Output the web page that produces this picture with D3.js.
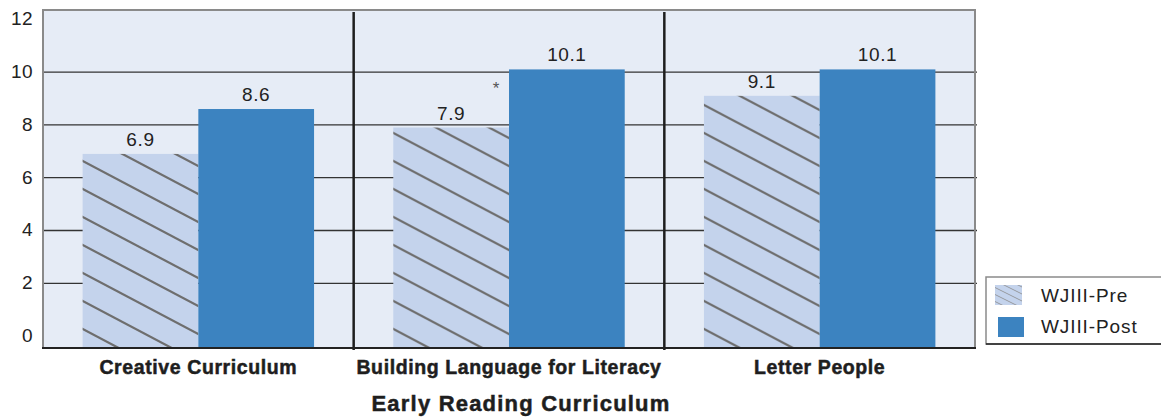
<!DOCTYPE html>
<html>
<head>
<meta charset="utf-8">
<script src="https://cdn.jsdelivr.net/npm/d3@7/dist/d3.min.js"></script>
<style>
  html, body { margin: 0; padding: 0; background: #fff; }
  svg { display: block; font-family: "Liberation Sans", Arial, Helvetica, sans-serif; }
</style>
</head>
<body>
<svg id="chart" width="1161" height="418"></svg>
<script>
// ---- Data ----
const categories = ["Creative Curriculum", "Building Language for Literacy", "Letter People"];
const series = ["WJIII-Pre", "WJIII-Post"];
const preValues = [6.9, 7.9, 9.1];
const postValues = [8.6, 10.1, 10.1];
const significant = [false, true, false];
const yTicks = [0, 2, 4, 6, 8, 10, 12];
const xTitle = "Early Reading Curriculum";

// ---- Layout ----
const svg = d3.select("#chart");
const plot = { left: 43, right: 975, top: 10, bottom: 348 };

const x0 = d3.scaleBand().domain(categories).range([plot.left, plot.right]).padding(0);
const bw = x0.bandwidth();
const pad = bw * 0.1275;
const x1 = d3.scaleBand().domain(series).range([pad, bw - pad]).padding(0);
const y = d3.scaleLinear().domain([-0.45, 12.35]).range([plot.bottom, plot.top]);

const defs = svg.append("defs");
// hatch pattern for pre bars
const pw = 53, ph = 28, s = ph / pw;
const pat = defs.append("pattern").attr("id", "hatch")
  .attr("patternUnits", "userSpaceOnUse").attr("width", pw).attr("height", ph);
pat.append("rect").attr("width", pw).attr("height", ph).attr("fill", "#c4d3ec");
[-1, 0, 1].forEach(m => {
  pat.append("line")
    .attr("x1", -5).attr("y1", s * -5 + m * ph)
    .attr("x2", pw + 5).attr("y2", s * (pw + 5) + m * ph)
    .attr("stroke", "#6e6e6e").attr("stroke-width", 2.2);
});
// fine hatch for legend
const lw = 14, lh = 7, ls = lh / lw;
const pat2 = defs.append("pattern").attr("id", "hatchSmall")
  .attr("patternUnits", "userSpaceOnUse").attr("width", lw).attr("height", lh);
pat2.append("rect").attr("width", lw).attr("height", lh).attr("fill", "#c4d3ec");
[-1, 0, 1].forEach(m => {
  pat2.append("line")
    .attr("x1", -3).attr("y1", ls * -3 + m * lh)
    .attr("x2", lw + 3).attr("y2", ls * (lw + 3) + m * lh)
    .attr("stroke", "#8a8a8a").attr("stroke-width", 0.8);
});

// plot background
svg.append("rect")
  .attr("x", plot.left).attr("y", plot.top)
  .attr("width", plot.right - plot.left).attr("height", plot.bottom - plot.top)
  .attr("fill", "#e6ecf6");

// gridlines
svg.append("g").selectAll("line").data(yTicks.filter(t => t > 0 && t < 12)).join("line")
  .attr("x1", plot.left).attr("x2", plot.right + 2)
  .attr("y1", d => y(d)).attr("y2", d => y(d))
  .attr("stroke", "#333").attr("stroke-width", 1.3);

// y tick labels
svg.append("g").selectAll("text").data(yTicks).join("text")
  .attr("x", 33).attr("y", d => y(d) + 6)
  .attr("text-anchor", "end")
  .attr("font-size", 19).attr("letter-spacing", 0.4).attr("fill", "#222")
  .text(d => d);

// bars
const rows = categories.map((c, i) => ({ cat: c, i, vals: [
  { key: series[0], v: preValues[i] }, { key: series[1], v: postValues[i] } ] }));

const groups = svg.append("g").selectAll("g").data(rows).join("g")
  .attr("transform", d => `translate(${x0(d.cat)},0)`);

groups.selectAll("rect").data(d => d.vals).join("rect")
  .attr("x", d => x1(d.key))
  .attr("y", d => y(d.v))
  .attr("width", x1.bandwidth())
  .attr("height", d => plot.bottom - y(d.v))
  .attr("fill", d => d.key === series[0] ? "url(#hatch)" : "#3c83c0");

groups.selectAll("text.val").data(d => d.vals).join("text")
  .attr("class", "val")
  .attr("x", d => x1(d.key) + x1.bandwidth() / 2)
  .attr("y", d => y(d.v) - 8)
  .attr("text-anchor", "middle")
  .attr("font-size", 19).attr("letter-spacing", 0.6).attr("fill", "#222")
  .text(d => d.v.toFixed(1));

// significance asterisk
groups.filter(d => significant[d.i]).append("text")
  .attr("x", x1(series[1]) - 13)
  .attr("y", d => y(d.vals[1].v) + 25)
  .attr("text-anchor", "middle")
  .attr("font-size", 17).attr("fill", "#555")
  .text("*");

// group separators
svg.append("g").selectAll("line").data(categories.slice(1)).join("line")
  .attr("x1", d => x0(d)).attr("x2", d => x0(d))
  .attr("y1", plot.top + 2).attr("y2", plot.bottom + 2)
  .attr("stroke", "#1e1e1e").attr("stroke-width", 2.5);

// plot border
svg.append("path")
  .attr("d", `M${plot.left},${plot.bottom} L${plot.left},${plot.top} L${plot.right},${plot.top} L${plot.right},${plot.bottom}`)
  .attr("fill", "none").attr("stroke", "#8a8a8a").attr("stroke-width", 2);
svg.append("line")
  .attr("x1", plot.left - 1).attr("x2", plot.right + 1)
  .attr("y1", plot.bottom).attr("y2", plot.bottom)
  .attr("stroke", "#222").attr("stroke-width", 2);

// category labels
svg.append("g").selectAll("text").data(categories).join("text")
  .attr("x", d => x0(d) + bw / 2)
  .attr("y", 374)
  .attr("text-anchor", "middle")
  .attr("font-size", 19.5).attr("font-weight", "bold").attr("letter-spacing", 0.6)
  .attr("fill", "#1e1e1e").attr("stroke", "#1e1e1e").attr("stroke-width", 0.5)
  .text(d => d);

// axis title
svg.append("text")
  .attr("x", 521).attr("y", 411)
  .attr("text-anchor", "middle")
  .attr("font-size", 22).attr("font-weight", "bold").attr("letter-spacing", 1.2)
  .attr("fill", "#1e1e1e").attr("stroke", "#1e1e1e").attr("stroke-width", 0.5)
  .text(xTitle);

// legend
const lg = svg.append("g");
lg.append("rect").attr("x", 986).attr("y", 277).attr("width", 190).attr("height", 67)
  .attr("fill", "#fff").attr("stroke", "#8a8a8a").attr("stroke-width", 1.5);
lg.append("line").attr("x1", 986).attr("x2", 1161).attr("y1", 344).attr("y2", 344)
  .attr("stroke", "#222").attr("stroke-width", 1.5);
const legItems = [
  { name: series[0], fill: "url(#hatchSmall)", x: 995, w: 27 },
  { name: series[1], fill: "#3c83c0", x: 998, w: 26 }
];
legItems.forEach((it, k) => {
  lg.append("rect").attr("x", it.x).attr("y", 285 + k * 32).attr("width", it.w).attr("height", 20)
    .attr("fill", it.fill);
  lg.append("text").attr("x", 1041).attr("y", 302 + k * 31)
    .attr("font-size", 19).attr("letter-spacing", 0.9).attr("fill", "#222")
    .text(it.name);
});
</script>
</body>
</html>
